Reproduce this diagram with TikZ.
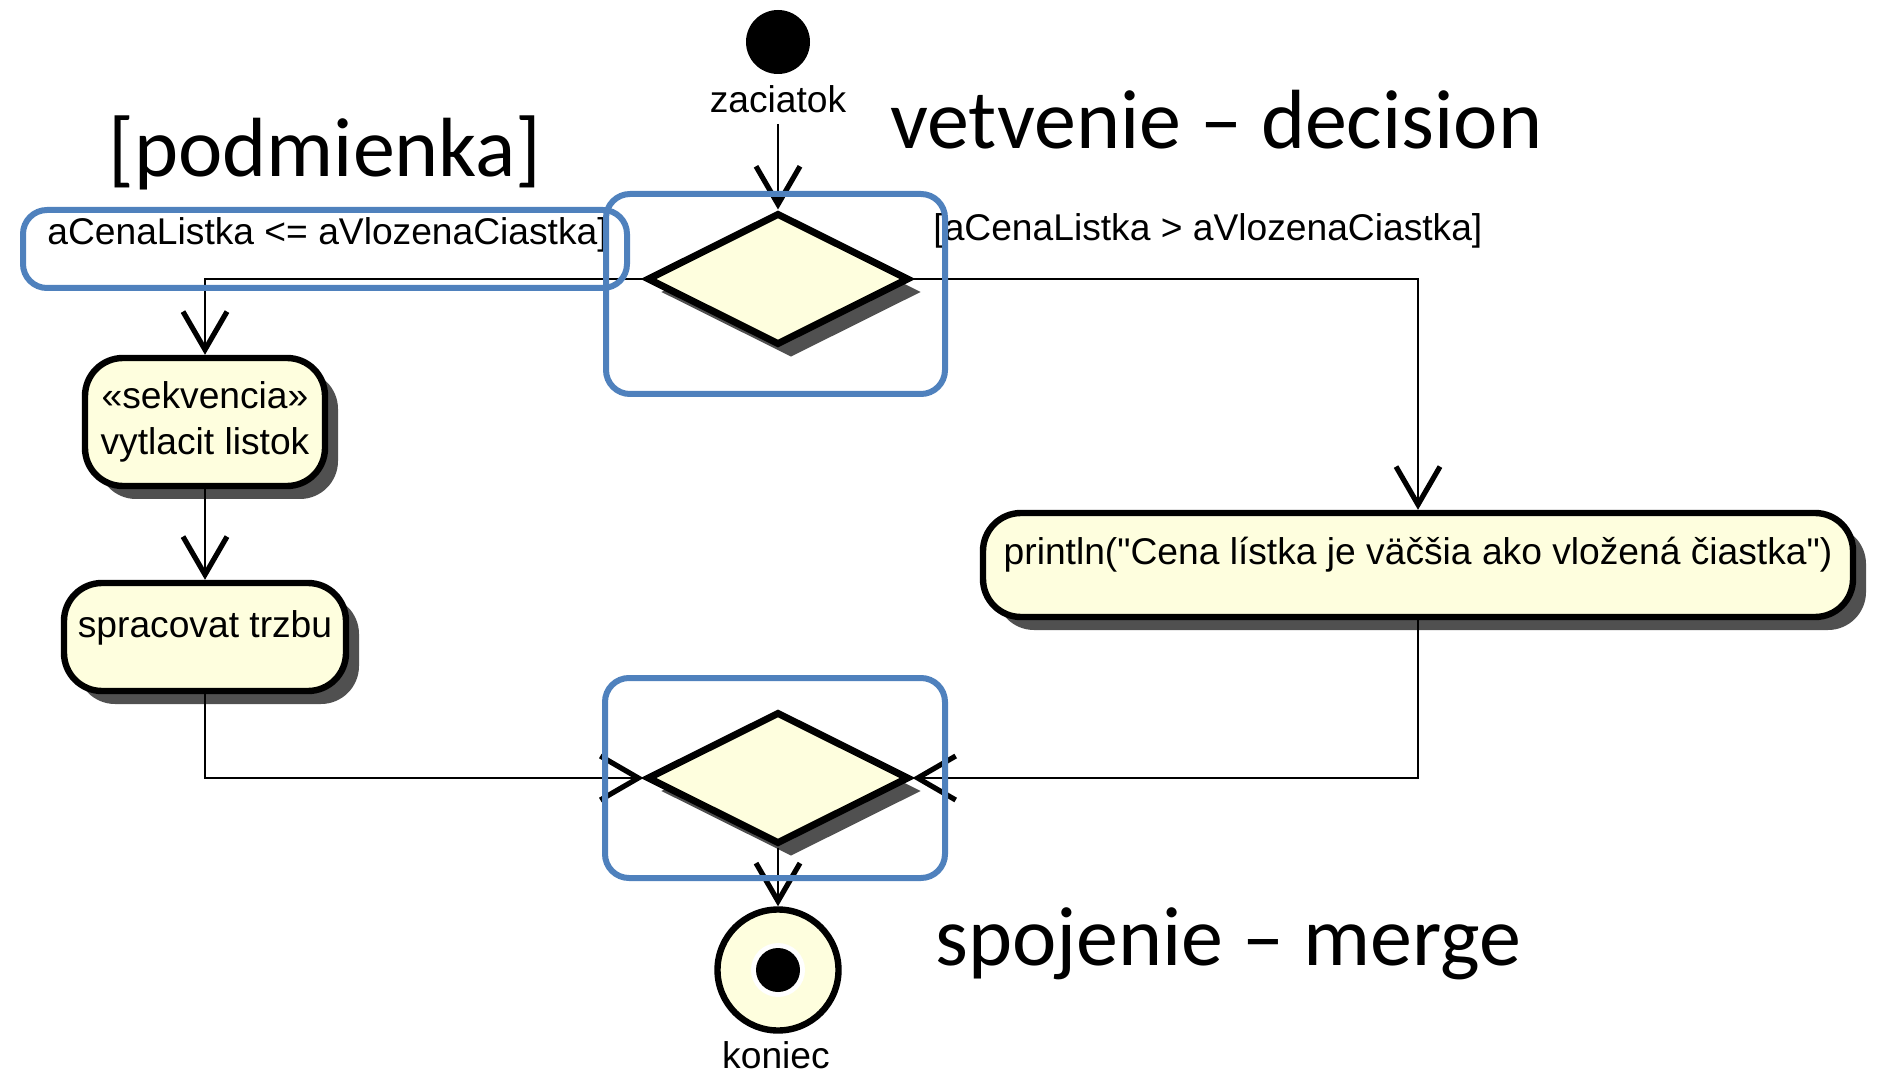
\documentclass[tikz,border=0pt]{standalone}
\usepackage{fontspec}
\setmainfont{Liberation Sans}[Ligatures=TeXOff]
\newfontfamily\calloutfont{Carlito}
\usetikzlibrary{shapes.geometric,shadows,arrows.meta}
\definecolor{actfill}{RGB}{254,254,222}
\definecolor{markblue}{RGB}{79,129,189}
\definecolor{shadowgray}{RGB}{80,80,80}
\tikzset{
	uml/.style={font=\fontsize{18.6}{23}\selectfont, inner sep=0pt},
	castshadow/.style={drop shadow={shadow xshift=6.5pt, shadow yshift=-6.5pt, opacity=1, fill=shadowgray}},
	activity/.style={uml, draw, line width=3.2pt, fill=actfill, rounded corners=19pt, align=center, castshadow},
	branch/.style={diamond, draw, line width=3.5pt, fill=actfill, minimum width=131pt, minimum height=66pt, inner sep=0pt, castshadow},
	flow/.style={line width=1.1pt, -{Straight Barb[length=19pt, width=22pt, line width=2.6pt]}},
	guard/.style={uml, anchor=base west},
	callout/.style={font=\calloutfont\fontsize{42}{50}\selectfont, inner sep=0pt, anchor=base west},
	highlight/.style={draw=markblue, line width=3pt, rounded corners=12pt}
}
\begin{document}
\begin{tikzpicture}[x=0.5pt, y=-0.5pt]
	\useasboundingbox (0,0) rectangle (1878,1074);
	% Nodes:
	\node[circle, fill=black, minimum size=32pt, inner sep=0pt] (start) at (778,42) {};
	\node[uml, anchor=base] (startlbl) at (778,113) {zaciatok};
	\node[branch] (decision) at (778,279) {};
	\node[activity, minimum width=120pt, minimum height=64pt] (sekvencia) at (205,422) {«sekvencia»\\vytlacit listok};
	\node[activity, minimum width=141pt, minimum height=54pt, text height=8pt, text depth=8pt] (trzba) at (205,637) {spracovat trzbu};
	\node[activity, minimum width=435pt, minimum height=52pt, text height=8pt, text depth=8pt] (println) at (1418,565) {println("Cena lístka je väčšia ako vložená čiastka")};
	\node[branch] (merge) at (778,778) {};
	\node[circle, draw, line width=3.2pt, fill=actfill, minimum size=60.5pt, inner sep=0pt] (end) at (778,970) {};
	\fill[white] (end.center) circle (13.5pt);
	\fill[black] (end.center) circle (11pt);
	\node[uml, anchor=base] (endlbl) at (776,1068) {koniec};
	% Guards and notes:
	\node[guard] (guardyes) at (47,245) {aCenaListka <= aVlozenaCiastka]};
	\node[guard] (guardno) at (933,241) {[aCenaListka > aVlozenaCiastka]};
	\node[callout] (decisiontxt) at (890,149) {vetvenie – decision};
	\node[callout] (condtxt) at (108,177) {[podmienka]};
	\node[callout] (mergetxt) at (935,965) {spojenie – merge};
	% Flows:
	\draw[flow, shorten <=5pt] (startlbl.south) -- (decision.north);
	\draw[flow] (decision.west) -| (sekvencia.north);
	\draw[flow] (decision.east) -| (println.north);
	\draw[flow] (sekvencia.south) -- (trzba.north);
	\draw[flow] (trzba.south) |- (merge.west);
	\draw[flow] (println.south) |- (merge.east);
	\draw[flow] (merge.south) -- (end.north);
	% Blue marks:
	\draw[highlight] (23,210) rectangle (627,288);
	\draw[highlight] (606,194) rectangle (945,394);
	\draw[highlight] (605,678) rectangle (945,878);
\end{tikzpicture}
\end{document}
